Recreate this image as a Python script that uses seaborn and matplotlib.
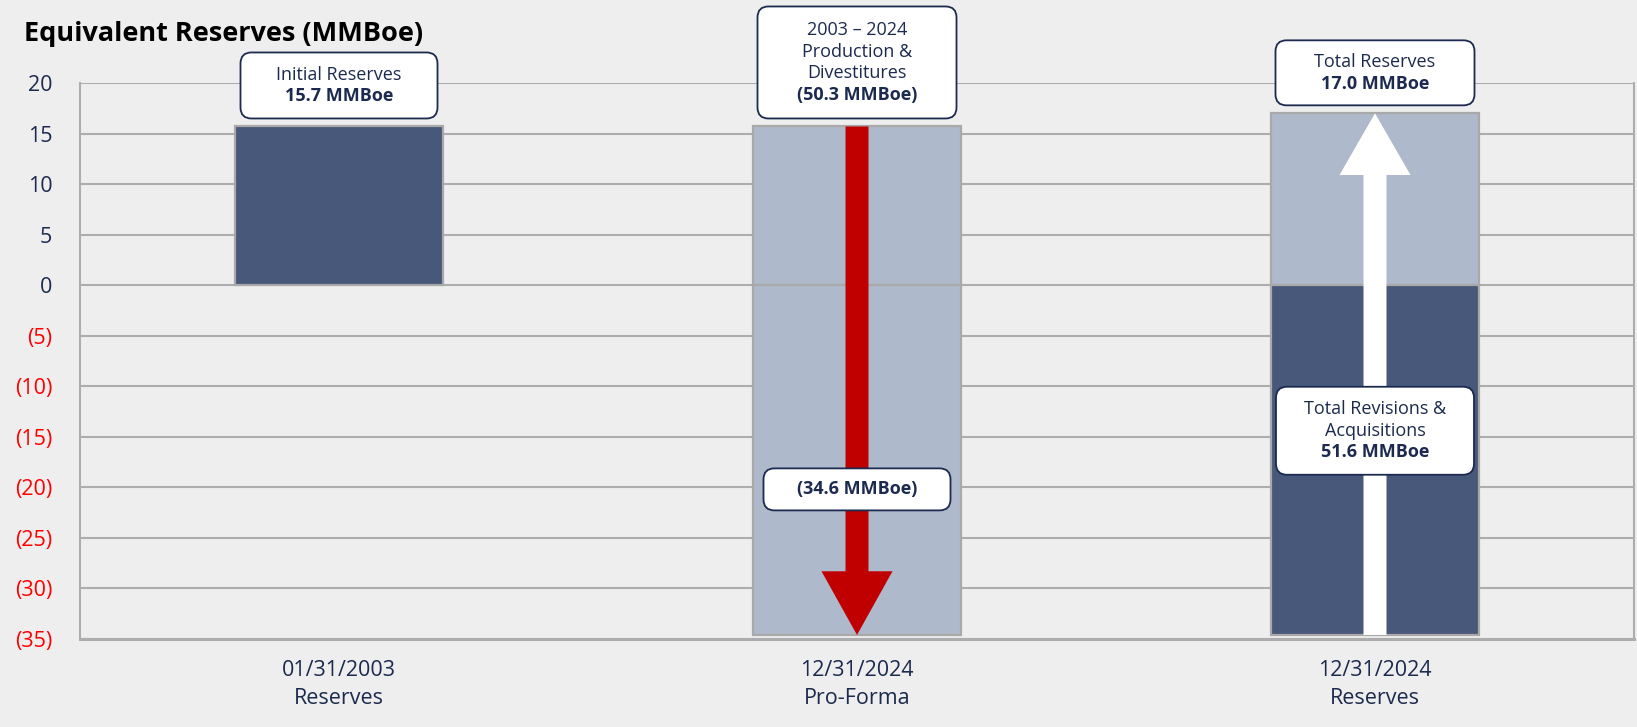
import matplotlib
matplotlib.use("Agg")
import matplotlib.pyplot as plt
import pandas as pd
import seaborn as sns
from matplotlib.patches import FancyBboxPatch, FancyArrow

# ---- data (MMBoe) ----
periods = ["01/31/2003\nReserves", "12/31/2024\nPro-Forma", "12/31/2024\nReserves"]
initial_reserves = 15.7
production_divestitures = 50.3
revisions_acquisitions = 51.6
pro_forma = round(initial_reserves - production_divestitures, 1)      # -34.6
total_reserves = round(pro_forma + revisions_acquisitions, 1)         # 17.0

above_zero = [initial_reserves, initial_reserves, total_reserves]
below_zero = [pro_forma, pro_forma]          # periods 2 and 3
y_ticks = list(range(-35, 25, 5))

# ---- style ----
DARK = "#48587A"
LIGHT = "#AEB9CC"
NAVY = "#1B2A4E"
NEG_RED = "#FF0000"
ARROW_RED = "#C00000"
GRID = "#ADADAD"
EDGE = "#A9A9A9"
BG = "#EEEEEE"

sns.set_theme(style="white")
plt.rcParams["font.family"] = ["Open Sans", "DejaVu Sans"]

W, H = 1637, 727
fig = plt.figure(figsize=(W / 100, H / 100), dpi=100, facecolor=BG)
ax_l, ax_r, ax_b, ax_t = 80 / W, 1634 / W, 1 - 639 / H, 1 - 83 / H
ax = fig.add_axes([ax_l, ax_b, ax_r - ax_l, ax_t - ax_b])
ax.set_facecolor(BG)

# bars: every segment grows from zero
pos_df = pd.DataFrame({"period": periods, "value": above_zero})
neg_df = pd.DataFrame({"period": periods[1:], "value": below_zero})
bar_kw = dict(x="period", y="value", hue="period", order=periods, hue_order=periods,
              width=0.4, saturation=1, errorbar=None, legend=False,
              edgecolor=EDGE, linewidth=1.6, ax=ax, zorder=2)
sns.barplot(data=pos_df, palette=[DARK, LIGHT, LIGHT], **bar_kw)
sns.barplot(data=neg_df, palette={periods[0]: DARK, periods[1]: LIGHT, periods[2]: DARK}, **bar_kw)

ax.set_xlim(-0.5, 2.5)
ax.set_ylim(-35, 20)
ax.set_xlabel("")
ax.set_ylabel("")

# grid and frame
ax.set_axisbelow(True)
ax.yaxis.grid(True, color=GRID, linewidth=1.5)
ax.xaxis.grid(False)
for side in ["left", "right"]:
    ax.spines[side].set_color(GRID)
    ax.spines[side].set_linewidth(1.5)
ax.spines["bottom"].set_color(GRID)
ax.spines["bottom"].set_linewidth(2.2)
ax.spines["top"].set_visible(False)

# ticks
ax.set_yticks(y_ticks)
ax.set_yticklabels([f"({abs(v)})" if v < 0 else f"{v}" for v in y_ticks])
for lab, v in zip(ax.get_yticklabels(), y_ticks):
    lab.set_color(NEG_RED if v < 0 else NAVY)
ax.tick_params(axis="y", length=0, pad=20, labelsize=15.5)
ax.set_xticks(range(len(periods)))
ax.set_xticklabels(periods)
ax.tick_params(axis="x", length=0, pad=15, labelsize=15.5, labelcolor=NAVY)
for lab in ax.get_xticklabels():
    lab.set_linespacing(1.42)

# pixel -> data conversion
x_per_px = 3 / ((ax_r - ax_l) * W)
y_per_px = 55 / ((ax_t - ax_b) * H)
aspect = y_per_px / x_per_px

# arrows
shaft = 23 * x_per_px
head = 71 * x_per_px
ax.add_patch(FancyArrow(1, initial_reserves, 0, -production_divestitures,
                        width=shaft, head_width=head, head_length=6.3,
                        length_includes_head=True, color=ARROW_RED, lw=0, zorder=4))
ax.add_patch(FancyArrow(2, pro_forma, 0, revisions_acquisitions,
                        width=shaft, head_width=head, head_length=6.1,
                        length_includes_head=True, color="white", lw=0, zorder=4))


def callout(xc, yc, w_px, h_px, lines):
    w, h = w_px * x_per_px, h_px * y_per_px
    box = FancyBboxPatch((xc - w / 2, yc - h / 2), w, h,
                         boxstyle=f"round,pad=0,rounding_size={11 * x_per_px}",
                         mutation_aspect=aspect, facecolor="white", edgecolor=NAVY,
                         linewidth=1.3, zorder=5, clip_on=False)
    ax.add_patch(box)
    step = 21.5 * y_per_px
    n = len(lines)
    for i, (txt, wt) in enumerate(lines):
        ty = yc + ((n - 1) / 2 - i) * step
        ax.text(xc, ty, txt, ha="center", va="center", fontsize=13, fontweight=wt,
                color=NAVY, zorder=6, clip_on=False)


gap = 8 * y_per_px
callout(0, initial_reserves + gap + 66 * y_per_px / 2, 197, 66,
        [("Initial Reserves", "normal"), (f"{initial_reserves:.1f} MMBoe", "bold")])
callout(1, initial_reserves + gap + 112 * y_per_px / 2, 199, 112,
        [("2003 \u2013 2024", "normal"), ("Production &", "normal"),
         ("Divestitures", "normal"), (f"({production_divestitures:.1f} MMBoe)", "bold")])
callout(2, total_reserves + gap + 65 * y_per_px / 2, 199, 65,
        [("Total Reserves", "normal"), (f"{total_reserves:.1f} MMBoe", "bold")])
callout(1, -20.2, 187, 42, [(f"({abs(pro_forma):.1f} MMBoe)", "bold")])
callout(2, -14.4, 198, 88,
        [("Total Revisions &", "normal"), ("Acquisitions", "normal"),
         (f"{revisions_acquisitions:.1f} MMBoe", "bold")])

fig.text(24 / W, 1 - 34 / H, "Equivalent Reserves (MMBoe)", ha="left", va="center",
         fontsize=19.5, fontweight="bold", color="black")

fig.savefig("out.png", dpi=100, facecolor=BG)
